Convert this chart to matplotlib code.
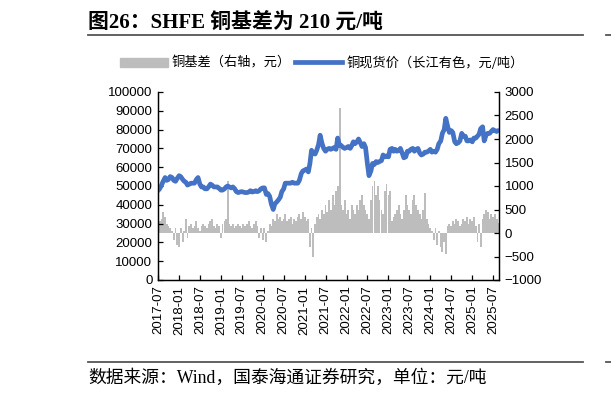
import numpy as np
import pandas as pd
import matplotlib
matplotlib.use('Agg')
import matplotlib.pyplot as plt
from matplotlib.lines import Line2D
from matplotlib.patches import Patch

# semi-monthly readings (1st and 15th of each month), 2017-07 .. 2025-08
dates = pd.date_range('2017-07-01', '2025-08-15', freq='SMS')

# 铜现货价（长江有色，元/吨）
p2017 = [47500, 48500, 50500, 52500, 54500, 53000, 53500, 55000, 54500, 53000, 52500, 54000]
p2018 = [55500, 55000, 53500, 52500, 52000, 50500, 51000, 51500, 51500, 51500, 53500, 54500,
         51000, 49500, 49500, 48500, 48500, 49500, 51000, 50500, 49500, 49500, 49500, 48800]
p2019 = [47800, 47800, 48500, 49500, 50000, 49500, 49000, 49500, 48500, 47000, 46500, 46800,
         47000, 46800, 46500, 46500, 46800, 47500, 46800, 47000, 47500, 47000, 47500, 48500]
p2020 = [49000, 49000, 45500, 46000, 44500, 40500, 37500, 40500, 41500, 42500, 44000, 47000,
         48500, 51500, 51500, 51500, 51500, 52000, 51500, 51500, 51500, 53000, 56500, 58000]
p2021 = [58500, 59000, 57500, 62000, 69000, 67500, 67000, 69000, 72000, 77000, 72500, 70000,
         68500, 69500, 70000, 69500, 70000, 70500, 69500, 75500, 71500, 71500, 70500, 70000]
p2022 = [70500, 71000, 70000, 71500, 73500, 72500, 73500, 75000, 73000, 71000, 72500, 70500,
         62000, 55500, 58000, 62000, 61500, 63000, 62500, 63000, 63500, 66500, 65500, 66000]
p2023 = [65500, 69500, 70000, 68500, 69500, 68500, 69000, 70000, 67500, 65000, 65500, 68500,
         68500, 69500, 70000, 68500, 69500, 70000, 67500, 66500, 67000, 68000, 68000, 68500]
p2024 = [69500, 68000, 68500, 68000, 69500, 72500, 74000, 78000, 80000, 86000, 81500, 78500,
         79500, 78500, 73500, 72500, 73000, 74000, 78000, 76500, 76500, 74000, 74000, 74500]
p2025 = [73500, 75500, 75500, 76500, 77500, 80500, 81500, 74000, 77000, 78000, 78000, 79000,
         80000, 79500, 79000, 79500]

# 铜基差（右轴，元）
b2017 = [150, 250, 300, 450, 350, 200, 150, 100, 50, -150, 100, -250]
b2018 = [-300, 100, -200, 50, 300, -100, 150, 200, 100, 150, 250, 100,
         50, 150, 200, 150, 100, 200, 250, 300, 150, 100, 200, 150]
b2019 = [-100, 200, 250, 300, 1100, 200, 150, 200, 100, 150, 200, 150,
         100, 200, 150, 200, 250, 150, 100, 200, 250, 150, -100, 100]
b2020 = [-150, 100, -200, 50, 200, 150, 300, 250, 400, 300, 350, 250,
         300, 400, 250, 300, 350, 200, 300, 250, 350, 400, 300, 450]
b2021 = [350, 250, 300, -300, 100, -500, 200, 350, 400, 300, 500, 400,
         600, 450, 700, 500, 800, 600, 900, 1000, 2650, 600, 500, 700]
b2022 = [400, 500, 300, 600, 500, 400, 600, 500, 700, 800, 600, 500,
         400, 300, 700, 1000, 1100, 800, 1000, 700, 500, 400, 900, 1050]
b2023 = [800, 900, 250, 350, 400, 500, 600, 400, 300, 500, 800, 600,
         500, 400, 700, 800, 600, 500, 400, 300, 500, 850, 300, 200]
b2024 = [100, 50, -150, 100, -250, 50, -300, -400, -200, -450, 150, 200,
         150, 250, 200, 300, 250, 150, 200, 300, 250, 350, 200, 300]
b2025 = [250, 350, 150, -200, 200, -300, 300, 400, 500, 450, 300, 400,
         350, 400, 300, 210]

price = p2017 + p2018 + p2019 + p2020 + p2021 + p2022 + p2023 + p2024 + p2025
basis = b2017 + b2018 + b2019 + b2020 + b2021 + b2022 + b2023 + b2024 + b2025

tick_dates = pd.date_range('2017-07-01', '2025-07-01', freq='6MS')
tick_labels = [d.strftime('%Y-%m') for d in tick_dates]

title = '图26：SHFE 铜基差为 210 元/吨'
source = '数据来源：Wind，国泰海通证券研究，单位：元/吨'
lab_basis = '铜基差（右轴，元）'
lab_price = '铜现货价（长江有色，元/吨）'

BLUE = '#4472C4'
GRAY = '#bdbdbd'
W, H = 611, 397

plt.rcParams['font.family'] = ['Liberation Sans', 'Noto Sans CJK SC']
fig = plt.figure(figsize=(W / 100, H / 100), dpi=100)
ax = fig.add_axes([158 / W, 1 - 280 / H, (499 - 158) / W, (280 - 92) / H])
ax2 = ax.twinx()

ax2.bar(dates, basis, width=16, color=GRAY, linewidth=0)
ax.plot(dates, price, color=BLUE, lw=3.4, solid_capstyle='round', solid_joinstyle='round')
ax.set_zorder(ax2.get_zorder() + 1)
ax.patch.set_visible(False)

ax.set_xlim(pd.Timestamp('2017-07-01'), pd.Timestamp('2025-08-22'))
ax.set_ylim(0, 100000)
ax.set_yticks(np.arange(0, 100001, 10000))
ax2.set_ylim(-1000, 3000)
ax2.set_yticks(np.arange(-1000, 3001, 500))
ax.set_xticks(tick_dates)
ax.set_xticklabels(tick_labels, rotation=90)

for a in (ax, ax2):
    a.spines['top'].set_visible(False)
    for s in a.spines.values():
        s.set_linewidth(0.9)
    a.tick_params(direction='in', length=3.5, width=0.9, labelsize=9.5, pad=4)

fig.legend(handles=[Patch(color=GRAY), Line2D([], [], color=BLUE, lw=3.4)],
           labels=[lab_basis, lab_price], loc='center', bbox_to_anchor=(322 / W, 1 - 63 / H),
           ncol=2, frameon=False, handlelength=3.6, handletextpad=0.3,
           columnspacing=0.3, prop={'family': ['Noto Sans CJK SC'], 'size': 9.5})

fig.text(88 / W, 1 - 29 / H, title, fontsize=15, fontweight='bold',
         family=['Liberation Serif', 'Noto Sans CJK SC'], va='baseline')
fig.text(88 / W, 1 - 383 / H, source, fontsize=12.8,
         family=['Liberation Serif', 'Noto Sans CJK SC'], va='baseline')

# separator rules under the title and above the source
for yy in (35, 362):
    fig.add_artist(Line2D([88 / W, 583 / W], [1 - yy / H] * 2, color='#555555', lw=1.3))
    fig.add_artist(Line2D([606 / W, 1.0], [1 - yy / H] * 2, color='#555555', lw=1.3))

fig.savefig('out.png', dpi=100)
